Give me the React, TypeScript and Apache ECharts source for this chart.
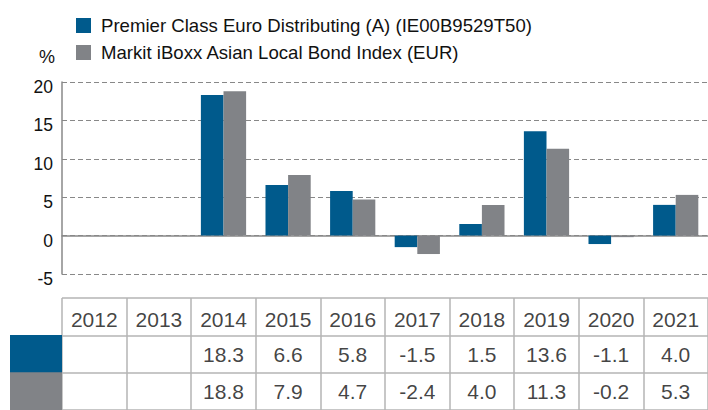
import React, { useEffect, useRef } from "react";
import * as echarts from "echarts";

const years = ["2012", "2013", "2014", "2015", "2016", "2017", "2018", "2019", "2020", "2021"];
const fundName = "Premier Class Euro Distributing (A) (IE00B9529T50)";
const indexName = "Markit iBoxx Asian Local Bond Index (EUR)";
const fundValues: (number | null)[] = [null, null, 18.3, 6.6, 5.8, -1.5, 1.5, 13.6, -1.1, 4.0];
const indexValues: (number | null)[] = [null, null, 18.8, 7.9, 4.7, -2.4, 4.0, 11.3, -0.2, 5.3];
const tableRows = ["year", "fund", "index"];

const BLUE = "#005A8C";
const GREY = "#818387";
const FONT = "Liberation Sans, Arial, sans-serif";

export default function App() {
  const ref = useRef<HTMLDivElement>(null);
  useEffect(() => {
    if (!ref.current) return;
    const chart = echarts.init(ref.current, undefined, { renderer: "svg" });
    const tableLine = { show: true, lineStyle: { color: "#b4b4b4", width: 1.5 } };
    const valueLabel = {
      show: true,
      position: "inside",
      fontSize: 21,
      fontFamily: FONT,
      color: "#111",
      formatter: (p: any) => (p.value[2] == null ? "" : Number(p.value[2]).toFixed(1)),
    };
    chart.setOption({
      animation: false,
      textStyle: { fontFamily: FONT },
      legend: {
        orient: "vertical",
        left: 71,
        top: 11,
        itemWidth: 15,
        itemHeight: 15,
        itemGap: 8,
        icon: "rect",
        selectedMode: false,
        textStyle: { fontSize: 18.6, color: "#111", fontFamily: FONT, padding: [0, 0, 0, 5] },
        data: [fundName, indexName],
      },
      grid: [
        { left: 62, top: 82, width: 650, height: 192 },
        { left: 62, top: 298, width: 650, height: 114 },
      ],
      xAxis: [
        {
          type: "category",
          gridIndex: 0,
          data: years,
          axisLabel: { show: false },
          axisTick: { show: false },
          axisLine: { show: true, onZero: true, lineStyle: { color: "#888", width: 1.5 } },
        },
        {
          type: "category",
          gridIndex: 1,
          data: years,
          axisLabel: { show: false },
          axisTick: { show: false },
          axisLine: { show: false },
          splitLine: tableLine,
        },
      ],
      yAxis: [
        {
          type: "value",
          gridIndex: 0,
          min: -5,
          max: 20,
          interval: 5,
          name: "%",
          nameLocation: "end",
          nameGap: 16,
          nameTextStyle: { fontSize: 18, color: "#111", fontFamily: FONT, align: "right", padding: [0, 7, 0, 0] },
          axisLine: { show: true, lineStyle: { color: "#888", width: 1.5 } },
          axisTick: { show: false },
          axisLabel: {
            margin: 9,
            formatter: "{v|{value}}",
            rich: { v: { fontSize: 17.5, color: "#111", fontFamily: FONT, padding: [10, 0, 0, 0] } },
          },
          splitLine: { show: true, lineStyle: { color: "#888", width: 1.2, type: [5, 3] } },
        },
        {
          type: "category",
          gridIndex: 1,
          inverse: true,
          data: tableRows,
          axisLine: { show: false },
          axisTick: { show: false },
          splitLine: tableLine,
          axisLabel: {
            margin: 0,
            interval: 0,
            formatter: (v: string) => (v === "fund" ? "{a|}" : v === "index" ? "{b|}" : ""),
            rich: {
              a: { backgroundColor: BLUE, width: 52, height: 38 },
              b: { backgroundColor: GREY, width: 52, height: 38 },
            },
          },
        },
      ],
      series: [
        {
          name: fundName,
          type: "bar",
          xAxisIndex: 0,
          yAxisIndex: 0,
          data: fundValues,
          barWidth: "35%",
          barGap: "0%",
          itemStyle: { color: BLUE },
        },
        {
          name: indexName,
          type: "bar",
          xAxisIndex: 0,
          yAxisIndex: 0,
          data: indexValues,
          barWidth: "35%",
          barGap: "0%",
          itemStyle: { color: GREY },
        },
        {
          type: "scatter",
          xAxisIndex: 1,
          yAxisIndex: 1,
          symbolSize: 1,
          itemStyle: { color: "transparent" },
          label: {
            show: true,
            position: "inside",
            offset: [0, 3],
            fontSize: 21,
            fontFamily: FONT,
            color: "#111",
            formatter: (p: any) => String(p.value[2]),
          },
          data: years.map((y, i) => [i, "year", y]),
        },
        {
          type: "scatter",
          xAxisIndex: 1,
          yAxisIndex: 1,
          symbolSize: 1,
          itemStyle: { color: "transparent" },
          label: valueLabel,
          data: fundValues.map((v, i) => [i, "fund", v]),
        },
        {
          type: "scatter",
          xAxisIndex: 1,
          yAxisIndex: 1,
          symbolSize: 1,
          itemStyle: { color: "transparent" },
          label: valueLabel,
          data: indexValues.map((v, i) => [i, "index", v]),
        },
      ],
    });
    return () => chart.dispose();
  }, []);
  return (
    <div style={{ position: "fixed", left: 0, top: 0, width: 708, height: 410, overflow: "hidden", background: "#fff" }}>
      <div ref={ref} style={{ width: 708, height: 410 }} />
    </div>
  );
}
